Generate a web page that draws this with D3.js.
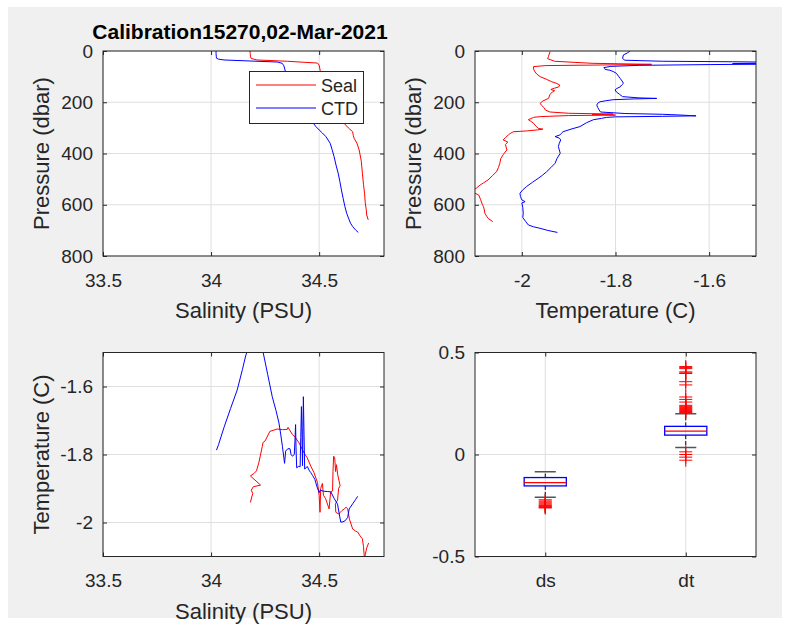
<!DOCTYPE html>
<html><head><meta charset="utf-8">
<script src="https://cdn.jsdelivr.net/npm/d3@7"></script>
<style>
body{margin:0;background:#fff}
text{font-family:"Liberation Sans",Arial,Helvetica,sans-serif;fill:#262626}
</style>
</head><body><svg id="c" width="790" height="625"></svg>
<script>
// ---------------- DATA ----------------
const titleText = "Calibration15270,02-Mar-2021";
const legendNames = ["Seal", "CTD"];

// Top-left: salinity profiles (pressure dbar, salinity PSU)
const sealSalPres = [0,10,20,29,35,40,44,47,55,77,100,130,160,200,240,265,282,300,315,330,341,360,386,430,477,520,555,590,620,640,659];
const sealSal     = [34.18,34.181,34.182,34.185,34.213,34.353,34.43,34.492,34.50,34.505,34.515,34.53,34.545,34.565,34.585,34.60,34.615,34.635,34.655,34.658,34.662,34.675,34.685,34.695,34.70,34.705,34.71,34.713,34.718,34.72,34.727];
const ctdSalPres  = [0,10,20,28,32,35,39,43,48,58,74,100,130,160,190,220,250,270,282,295,308,320,334,360,385,412,445,477,510,542,575,607,635,659,672,685,698,708];
const ctdSal      = [34.023,34.023,34.024,34.025,34.035,34.06,34.18,34.306,34.329,34.337,34.342,34.35,34.37,34.39,34.41,34.43,34.45,34.465,34.473,34.485,34.50,34.515,34.531,34.551,34.56,34.569,34.578,34.588,34.596,34.603,34.611,34.619,34.628,34.639,34.645,34.655,34.668,34.681];

// Top-right: temperature profiles (pressure dbar, temperature C)
const sealTempPres = [3,15,22,30,40,48,52,54,57,61,70,81,90,100,110,120,127,133,140,145,150,155,160,170,185,195,204,212,222,230,238,243,246,248,250,252,256,259,268,275,282,289,296,302,305,308,312,315,322,328,338,347,355,365,386,405,420,438,455,471,487,503,515,523,535,545,555,562,580,600,607,620,633,645,653,666];
const sealTemp     = [-1.94,-1.942,-1.943,-1.945,-1.93,-1.85,-1.723,-1.80,-1.95,-1.975,-1.975,-1.972,-1.968,-1.961,-1.948,-1.936,-1.925,-1.919,-1.921,-1.93,-1.938,-1.93,-1.935,-1.94,-1.943,-1.955,-1.961,-1.958,-1.952,-1.95,-1.94,-1.90,-1.805,-1.85,-1.80,-1.90,-1.96,-1.975,-1.986,-1.98,-1.975,-1.972,-1.968,-1.965,-1.955,-1.967,-1.99,-2.018,-2.025,-2.029,-2.035,-2.04,-2.03,-2.035,-2.032,-2.04,-2.045,-2.047,-2.05,-2.054,-2.063,-2.072,-2.082,-2.089,-2.097,-2.105,-2.10,-2.092,-2.088,-2.084,-2.082,-2.08,-2.079,-2.075,-2.072,-2.062];
const ctdTempPres  = [0,8,15,29,36,40,42,44,47,49,51,53,56,60,65,68,72,75,80,87,100,107,117,126,133,140,146,152,160,168,178,183,185,187,190,194,198,204,211,220,230,238,244,247,250,252,253,255,257,259,263,268,280,295,305,315,322,328,334,340,347,360,373,386,399,420,438,455,471,485,497,512,529,542,555,568,581,588,593,610,633,650,665,679,686,692,700,708];
const ctdTemp      = [-1.769,-1.775,-1.783,-1.785,-1.78,-1.70,-1.55,-1.45,-1.45,-1.55,-1.45,-1.60,-1.75,-1.81,-1.825,-1.823,-1.822,-1.812,-1.805,-1.798,-1.793,-1.79,-1.786,-1.783,-1.787,-1.79,-1.797,-1.801,-1.798,-1.792,-1.785,-1.75,-1.712,-1.76,-1.805,-1.82,-1.833,-1.838,-1.84,-1.838,-1.835,-1.832,-1.78,-1.70,-1.66,-1.64,-1.628,-1.70,-1.80,-1.819,-1.83,-1.847,-1.862,-1.876,-1.895,-1.912,-1.916,-1.919,-1.929,-1.92,-1.917,-1.92,-1.922,-1.92,-1.918,-1.925,-1.929,-1.938,-1.947,-1.956,-1.965,-1.977,-1.99,-1.998,-2.004,-2.003,-2.0,-1.993,-2.0,-1.998,-1.997,-1.998,-1.992,-1.986,-1.975,-1.961,-1.945,-1.924];

// Bottom-left: T-S diagram (salinity, temperature)
const tsSealSal  = [34.182,34.188,34.193,34.186,34.195,34.229,34.182,34.20,34.21,34.221,34.237,34.24,34.25,34.272,34.306,34.33,34.353,34.356,34.376,34.39,34.407,34.43,34.445,34.461,34.476,34.492,34.50,34.504,34.507,34.515,34.52,34.53,34.546,34.553,34.562,34.564,34.567,34.572,34.576,34.58,34.586,34.597,34.59,34.585,34.575,34.577,34.59,34.605,34.616,34.625,34.632,34.64,34.655,34.668,34.678,34.69,34.70,34.705,34.71,34.713,34.72,34.729];
const tsSealTemp = [-1.941,-1.925,-1.915,-1.905,-1.895,-1.89,-1.863,-1.855,-1.848,-1.824,-1.776,-1.765,-1.76,-1.732,-1.725,-1.727,-1.726,-1.72,-1.741,-1.75,-1.766,-1.795,-1.81,-1.834,-1.853,-1.882,-1.92,-1.97,-1.90,-1.885,-1.92,-1.93,-1.96,-1.91,-1.907,-1.85,-1.805,-1.81,-1.85,-1.83,-1.86,-1.892,-1.90,-1.935,-1.945,-1.97,-1.975,-1.965,-1.96,-1.955,-1.96,-1.99,-2.019,-2.025,-2.028,-2.04,-2.048,-2.07,-2.11,-2.095,-2.075,-2.06];
const tsCtdSal   = [34.025,34.035,34.06,34.09,34.121,34.145,34.16,34.17,34.20,34.22,34.241,34.262,34.283,34.30,34.314,34.322,34.33,34.34,34.345,34.355,34.365,34.37,34.376,34.385,34.388,34.391,34.393,34.396,34.405,34.412,34.415,34.418,34.421,34.423,34.425,34.427,34.43,34.433,34.445,34.455,34.461,34.47,34.48,34.49,34.50,34.505,34.52,34.54,34.554,34.57,34.585,34.593,34.60,34.61,34.62,34.632,34.639,34.655,34.668,34.678];
const tsCtdTemp  = [-1.787,-1.77,-1.72,-1.665,-1.61,-1.55,-1.51,-1.49,-1.44,-1.40,-1.50,-1.565,-1.63,-1.67,-1.707,-1.74,-1.776,-1.826,-1.79,-1.783,-1.783,-1.80,-1.805,-1.80,-1.76,-1.712,-1.78,-1.839,-1.835,-1.836,-1.75,-1.659,-1.75,-1.833,-1.72,-1.63,-1.74,-1.843,-1.835,-1.848,-1.853,-1.862,-1.873,-1.895,-1.912,-1.905,-1.908,-1.909,-1.91,-1.93,-1.946,-1.975,-1.999,-1.998,-1.995,-1.985,-1.96,-1.945,-1.933,-1.923];

// Bottom-right: boxplot of differences
const boxCategories = ["ds", "dt"];
const boxQ1       = [-0.154, 0.095];
const boxMedian   = [-0.138, 0.115];
const boxQ3       = [-0.113, 0.138];
const boxWhiskLow = [-0.21, 0.034];
const boxWhiskHigh= [-0.084, 0.20];
const boxOutliers = [
  [-0.222,-0.228,-0.233,-0.238,-0.243,-0.248,-0.251,-0.254,-0.257,-0.26,-0.262],
  [0.431,0.426,0.421,0.405,0.40,0.397,0.357,0.341,0.282,0.27,0.257,0.241,0.236,0.231,0.226,0.221,0.216,0.211,0.206,0.013,0.0,-0.013,-0.028]
];

// tick values
const salTicks = [33.5, 34, 34.5];
const presTicks = [0, 200, 400, 600, 800];
const tempTicks = [-2, -1.8, -1.6];
const diffTicks = [-0.5, 0, 0.5];

// ---------------- DRAW ----------------
const svg = d3.select('#c');
svg.append('rect').attr('x',8).attr('y',7).attr('width',774).attr('height',611).attr('fill','#f0f0f0');

const TICKF = 19, LABF = 22;
const RED = '#ff0000', BLUE = '#0000ff', AX = '#262626', GRID = '#dfdfdf';
let clipId = 0;

function panel(o){
  const g = svg.append('g');
  const id = 'clip' + (clipId++);
  g.append('clipPath').attr('id', id).append('rect')
    .attr('x', o.x0).attr('y', o.y0).attr('width', o.w).attr('height', o.h);
  g.append('rect').attr('x', o.x0).attr('y', o.y0).attr('width', o.w).attr('height', o.h).attr('fill', '#fff');
  // grid
  const grid = g.append('g');
  o.xTicks.forEach(t => {
    const x = o.xs(t);
    grid.append('line').attr('x1', x).attr('x2', x).attr('y1', o.y0).attr('y2', o.y0 + o.h)
      .attr('stroke', GRID).attr('stroke-width', 1);
  });
  o.yTicks.forEach(t => {
    const y = o.ys(t);
    grid.append('line').attr('x1', o.x0).attr('x2', o.x0 + o.w).attr('y1', y).attr('y2', y)
      .attr('stroke', GRID).attr('stroke-width', 1);
  });
  const data = g.append('g').attr('clip-path', `url(#${id})`);
  o.draw(data);
  // axes
  const xf = o.xFmt || (d => String(d));
  const yf = o.yFmt || (d => String(d));
  const xa = g.append('g').attr('transform', `translate(0,${o.y0 + o.h})`)
    .call(d3.axisBottom(o.xs).tickValues(o.xTicks).tickFormat(xf).tickSizeInner(-4).tickSizeOuter(0).tickPadding(17.5));
  const xa2 = g.append('g').attr('transform', `translate(0,${o.y0})`)
    .call(d3.axisTop(o.xs).tickValues(o.xTicks).tickFormat('').tickSizeInner(-4).tickSizeOuter(0));
  const ya = g.append('g').attr('transform', `translate(${o.x0},0)`)
    .call(d3.axisLeft(o.ys).tickValues(o.yTicks).tickFormat(yf).tickSizeInner(-4).tickSizeOuter(0).tickPadding(10));
  const ya2 = g.append('g').attr('transform', `translate(${o.x0 + o.w},0)`)
    .call(d3.axisRight(o.ys).tickValues(o.yTicks).tickFormat('').tickSizeInner(-4).tickSizeOuter(0));
  [xa, xa2, ya, ya2].forEach(a => {
    a.select('.domain').remove();
    a.selectAll('line').attr('stroke', AX);
    a.selectAll('text').attr('font-size', TICKF).attr('font-family', '"Liberation Sans",Arial,sans-serif').attr('fill', AX);
  });
  g.append('rect').attr('x', o.x0).attr('y', o.y0).attr('width', o.w).attr('height', o.h)
    .attr('fill', 'none').attr('stroke', AX).attr('stroke-width', 1);
  if (o.xLabel) g.append('text').attr('x', o.x0 + o.w / 2).attr('y', o.y0 + o.h + 62)
    .attr('text-anchor', 'middle').attr('font-size', LABF).text(o.xLabel);
  if (o.yLabel) g.append('text').attr('transform', `translate(${o.x0 - 54},${o.y0 + o.h / 2}) rotate(-90)`)
    .attr('text-anchor', 'middle').attr('font-size', LABF).text(o.yLabel);
  return g;
}

function drawLine(g, xs, ys, xv, yv, color){
  const pts = xv.map((v, i) => [xs(v), ys(yv[i])]);
  g.append('path').attr('d', d3.line()(pts)).attr('fill', 'none')
    .attr('stroke', color).attr('stroke-width', 1).attr('stroke-linejoin', 'round');
}

const L = {x0: 103, w: 281}, R = {x0: 475, w: 281};
const T = {y0: 51, h: 205}, B = {y0: 352.5, h: 204};

// Panel 1: salinity vs pressure
const s1x = d3.scaleLinear([33.5, 34.8], [L.x0, L.x0 + L.w]);
const s1y = d3.scaleLinear([0, 800], [T.y0, T.y0 + T.h]);
panel({x0: L.x0, w: L.w, y0: T.y0, h: T.h, xs: s1x, ys: s1y, xTicks: salTicks, yTicks: presTicks,
  xLabel: 'Salinity (PSU)', yLabel: 'Pressure (dbar)',
  draw: g => {
    drawLine(g, s1x, s1y, sealSal, sealSalPres, RED);
    drawLine(g, s1x, s1y, ctdSal, ctdSalPres, BLUE);
  }});
// legend
const lg = svg.append('g');
lg.append('rect').attr('x', 249.5).attr('y', 71.5).attr('width', 114).attr('height', 52)
  .attr('fill', '#fff').attr('stroke', AX).attr('stroke-width', 1);
[RED, BLUE].forEach((c, i) => {
  const y = 85 + i * 23;
  lg.append('line').attr('x1', 256).attr('x2', 316).attr('y1', y).attr('y2', y).attr('stroke', c).attr('stroke-width', 1);
  lg.append('text').attr('x', 321).attr('y', y + 6.5).attr('font-size', 18).text(legendNames[i]);
});
// title
svg.append('text').attr('x', 240).attr('y', 39).attr('text-anchor', 'middle')
  .attr('font-size', 21).attr('font-weight', 'bold').attr('fill', '#000').style('fill', '#000').text(titleText);

// Panel 2: temperature vs pressure
const s2x = d3.scaleLinear([-2.1, -1.5], [R.x0, R.x0 + R.w]);
const s2y = d3.scaleLinear([0, 800], [T.y0, T.y0 + T.h]);
panel({x0: R.x0, w: R.w, y0: T.y0, h: T.h, xs: s2x, ys: s2y, xTicks: tempTicks, yTicks: presTicks,
  xLabel: 'Temperature (C)', yLabel: 'Pressure (dbar)',
  draw: g => {
    drawLine(g, s2x, s2y, sealTemp, sealTempPres, RED);
    drawLine(g, s2x, s2y, ctdTemp, ctdTempPres, BLUE);
  }});

// Panel 3: T-S
const s3x = d3.scaleLinear([33.5, 34.8], [L.x0, L.x0 + L.w]);
const s3y = d3.scaleLinear([-2.1, -1.5], [B.y0 + B.h, B.y0]);
panel({x0: L.x0, w: L.w, y0: B.y0, h: B.h, xs: s3x, ys: s3y, xTicks: salTicks, yTicks: tempTicks,
  xLabel: 'Salinity (PSU)', yLabel: 'Temperature (C)',
  draw: g => {
    drawLine(g, s3x, s3y, tsSealSal, tsSealTemp, RED);
    drawLine(g, s3x, s3y, tsCtdSal, tsCtdTemp, BLUE);
  }});

// Panel 4: boxplot
const s4x = d3.scaleLinear([0.5, 2.5], [R.x0, R.x0 + R.w]);
const s4y = d3.scaleLinear([-0.5, 0.5], [B.y0 + B.h, B.y0]);
panel({x0: R.x0, w: R.w, y0: B.y0, h: B.h, xs: s4x, ys: s4y, xTicks: [1, 2], yTicks: diffTicks,
  xFmt: d => boxCategories[d - 1],
  draw: g => {
    boxCategories.forEach((c, i) => {
      const pos = i + 1;
      const xc = s4x(pos), bw = s4x(pos + 0.15) - xc, cw = s4x(pos + 0.075) - xc;
      // whiskers
      g.append('line').attr('x1', xc).attr('x2', xc).attr('y1', s4y(boxQ3[i])).attr('y2', s4y(boxWhiskHigh[i]))
        .attr('stroke', '#000').attr('stroke-width', 1).attr('stroke-dasharray', '4,2');
      g.append('line').attr('x1', xc).attr('x2', xc).attr('y1', s4y(boxQ1[i])).attr('y2', s4y(boxWhiskLow[i]))
        .attr('stroke', '#000').attr('stroke-width', 1).attr('stroke-dasharray', '4,2');
      [boxWhiskHigh[i], boxWhiskLow[i]].forEach(v => {
        g.append('line').attr('x1', xc - cw).attr('x2', xc + cw).attr('y1', s4y(v)).attr('y2', s4y(v))
          .attr('stroke', '#555').attr('stroke-width', 1.5);
      });
      // box
      g.append('rect').attr('x', xc - bw).attr('y', s4y(boxQ3[i])).attr('width', 2 * bw)
        .attr('height', s4y(boxQ1[i]) - s4y(boxQ3[i])).attr('fill', 'none').attr('stroke', BLUE).attr('stroke-width', 1.3);
      g.append('line').attr('x1', xc - bw).attr('x2', xc + bw).attr('y1', s4y(boxMedian[i])).attr('y2', s4y(boxMedian[i]))
        .attr('stroke', RED).attr('stroke-width', 1.3);
      // outliers (+)
      boxOutliers[i].forEach(v => {
        const y = s4y(v);
        g.append('path').attr('d', `M${xc - 6.5},${y}H${xc + 6.5}M${xc},${y - 6.5}V${y + 6.5}`)
          .attr('stroke', RED).attr('stroke-width', 1).attr('fill', 'none');
      });
    });
  }});
</script>
</body></html>
